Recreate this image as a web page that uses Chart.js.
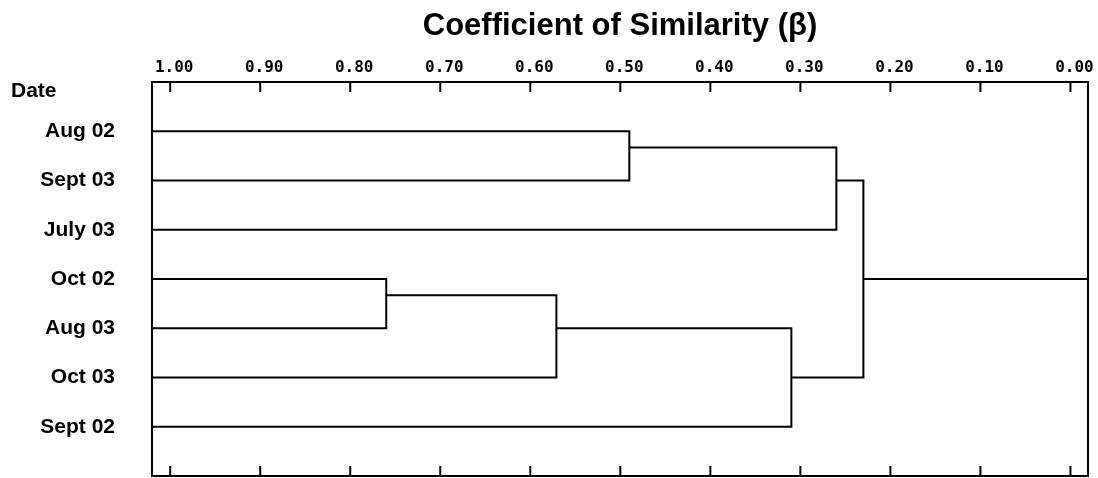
<!DOCTYPE html>
<html lang="en">
<head>
    <meta charset="UTF-8">
    <title>Coefficient of Similarity dendrogram</title>
    <style>
        html, body { margin: 0; padding: 0; background: #fff; }
        #wrap { width: 1098px; height: 478px; }
    </style>
</head>
<body>
    <div id="wrap">
        <canvas id="myChart" width="1098" height="478" role="img" aria-label="Dendrogram of sampling dates"></canvas>
    </div>

    <script src="https://cdn.jsdelivr.net/npm/chart.js@4.4.1/dist/chart.umd.min.js"></script>
    <script>
        // leaves, top to bottom
        var leaves = ['Aug 02', 'Sept 03', 'July 03', 'Oct 02', 'Aug 03', 'Oct 03', 'Sept 02'];

        // axis ticks (coefficient runs 1.00 -> 0.00, left to right)
        var tickValues = [1.0, 0.9, 0.8, 0.7, 0.6, 0.5, 0.4, 0.3, 0.2, 0.1, 0.0];
        var tickLabels = ['1.00', '0.90', '0.80', '0.70', '0.60', '0.50', '0.40', '0.30', '0.20', '0.10', '0.00'];

        // merges: nodes 0-6 are leaves, node 7+i is merge i
        var mergeA    = [0, 7, 3, 9, 10, 8];
        var mergeB    = [1, 2, 4, 5, 6, 11];
        var mergeBeta = [0.49, 0.26, 0.76, 0.571, 0.31, 0.23];
        var mergeRow  = [1.33, 2, 4.33, 5, 6, 4];

        var X_MIN = -0.0195, X_MAX = 1.0202;

        function nodePos(n) {
            if (n < leaves.length) return { x: X_MAX, y: n + 1 };
            var i = n - leaves.length;
            return { x: mergeBeta[i], y: mergeRow[i] };
        }

        var datasets = [];
        for (var i = 0; i < mergeBeta.length; i++) {
            var a = nodePos(mergeA[i]), b = nodePos(mergeB[i]), h = mergeBeta[i];
            datasets.push({
                data: [{ x: a.x, y: a.y }, { x: h, y: a.y }, { x: h, y: b.y }, { x: b.x, y: b.y }]
            });
        }
        var last = mergeBeta.length - 1;
        datasets.push({ data: [{ x: mergeBeta[last], y: mergeRow[last] }, { x: X_MIN, y: mergeRow[last] }] });

        datasets.forEach(function (d) {
            d.showLine = true;
            d.borderColor = '#000';
            d.borderWidth = 2;
            d.pointRadius = 0;
            d.tension = 0;
            d.borderJoinStyle = 'miter';
            d.borderCapStyle = 'butt';
        });

        // frame, inner tick marks and the "Date" header
        var framePlugin = {
            id: 'frame',
            afterDraw: function (chart) {
                var ctx = chart.ctx, area = chart.chartArea, xs = chart.scales.x, ys = chart.scales.y;
                ctx.save();
                ctx.strokeStyle = '#000';
                ctx.lineWidth = 2;
                ctx.strokeRect(area.left, area.top, area.right - area.left, area.bottom - area.top);
                ctx.beginPath();
                tickValues.forEach(function (v) {
                    var px = xs.getPixelForValue(v);
                    ctx.moveTo(px, area.top);
                    ctx.lineTo(px, area.top + 10);
                    ctx.moveTo(px, area.bottom);
                    ctx.lineTo(px, area.bottom - 10);
                });
                ctx.stroke();
                ctx.fillStyle = '#000';
                ctx.font = 'bold 21px "Liberation Sans", Arial, sans-serif';
                ctx.textAlign = 'left';
                ctx.textBaseline = 'middle';
                ctx.fillText('Date', 11, ys.getPixelForValue(0.18));
                ctx.restore();
            }
        };

        new Chart(document.getElementById('myChart').getContext('2d'), {
            type: 'scatter',
            data: { datasets: datasets },
            plugins: [framePlugin],
            options: {
                responsive: false,
                animation: false,
                layout: { padding: { top: 0, right: 10, bottom: 2, left: 0 } },
                plugins: { legend: { display: false }, tooltip: { enabled: false } },
                scales: {
                    x: {
                        type: 'linear',
                        position: 'top',
                        reverse: true,
                        min: X_MIN,
                        max: X_MAX,
                        afterBuildTicks: function (s) {
                            s.ticks = tickValues.map(function (v) { return { value: v }; });
                        },
                        afterFit: function (s) {
                            s.height = 82;
                            s.paddingLeft = 0;
                            s.paddingRight = 0;
                        },
                        grid: { display: false, drawTicks: false },
                        border: { display: false },
                        ticks: {
                            padding: 5,
                            labelOffset: 4,
                            color: '#000',
                            font: { family: '"DejaVu Sans Mono", monospace', size: 16, weight: 'bold' },
                            callback: function (v) { return tickLabels[tickValues.indexOf(v)]; }
                        },
                        title: {
                            display: true,
                            text: 'Coefficient of Similarity (\u03b2)',
                            color: '#000',
                            padding: { top: 8, bottom: 0 },
                            font: { family: '"Liberation Sans", Arial, sans-serif', size: 31, weight: 'bold' }
                        }
                    },
                    y: {
                        type: 'linear',
                        reverse: true,
                        min: 0,
                        max: 8,
                        afterBuildTicks: function (s) {
                            s.ticks = leaves.map(function (l, i) { return { value: i + 1 }; });
                        },
                        afterFit: function (s) {
                            s.width = 152;
                            s.paddingTop = 0;
                            s.paddingBottom = 0;
                        },
                        grid: { display: false, drawTicks: false },
                        border: { display: false },
                        ticks: {
                            padding: 37,
                            color: '#000',
                            font: { family: '"Liberation Sans", Arial, sans-serif', size: 21, weight: 'bold' },
                            callback: function (v) { return leaves[v - 1]; }
                        }
                    }
                }
            }
        });
    </script>
</body>
</html>
